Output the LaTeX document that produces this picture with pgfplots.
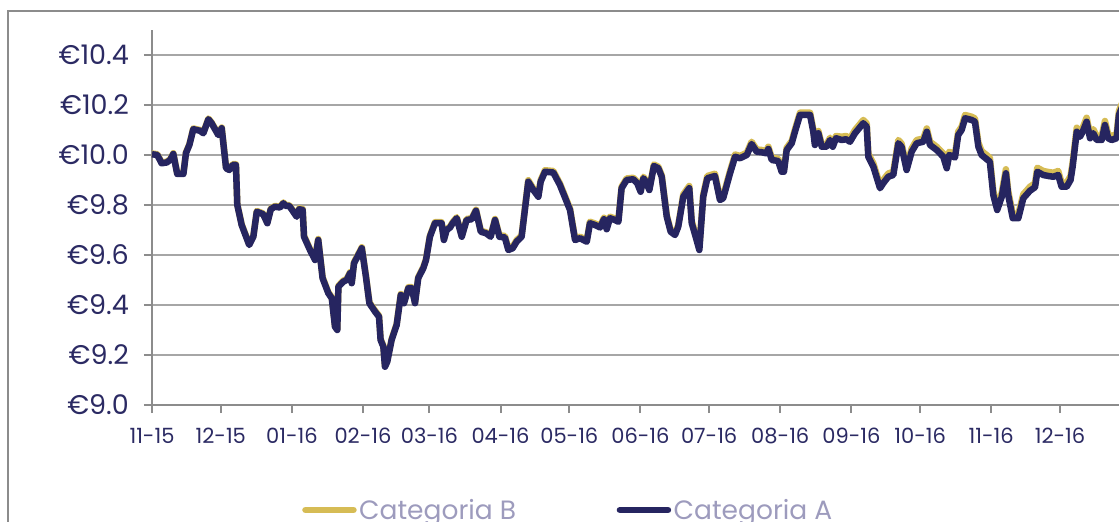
\documentclass[border=0pt]{standalone}
\usepackage{fontspec}
\setmainfont{Poppins}
\usepackage{pgfplots}
\usepackage{pgfplotstable}
\pgfplotsset{compat=1.18}
\definecolor{navyA}{RGB}{38,37,96}
\definecolor{goldB}{RGB}{214,188,85}
\definecolor{ticknavy}{RGB}{43,42,99}
\definecolor{legtext}{RGB}{157,155,189}
\definecolor{gridgray}{RGB}{166,166,166}
\definecolor{axisgray}{RGB}{140,140,140}
\definecolor{framegray}{RGB}{140,140,140}
\pgfplotstableread{
d a b
0 10.003 10.006
2.3 10.000 10.003
4.2 9.967 9.970
6.4 9.970 9.973
7.9 9.980 9.983
9.3 10.004 10.007
11.0 9.924 9.927
13.7 9.924 9.927
14.8 10.007 10.010
16.3 10.040 10.043
18.0 10.103 10.106
20.9 10.097 10.100
22.4 10.087 10.090
24.6 10.143 10.146
26.0 10.127 10.130
28.9 10.080 10.083
30.4 10.107 10.110
32.3 9.947 9.950
33.7 9.940 9.943
35.2 9.960 9.963
36.6 9.960 9.963
37.2 9.800 9.803
39.1 9.720 9.723
42.4 9.640 9.643
44.2 9.673 9.676
45.7 9.773 9.776
48.5 9.763 9.766
50.3 9.727 9.730
51.8 9.783 9.786
53.6 9.793 9.796
55.8 9.790 9.793
57.3 9.807 9.810
58.4 9.796 9.799
59.9 9.796 9.799
63.1 9.753 9.757
64.2 9.783 9.787
65.7 9.780 9.784
66.3 9.673 9.677
68.9 9.620 9.624
71.1 9.580 9.584
72.5 9.660 9.664
74.4 9.507 9.511
76.9 9.447 9.451
78.4 9.427 9.431
79.8 9.313 9.317
80.8 9.300 9.304
81.3 9.473 9.477
83.4 9.493 9.497
84.9 9.500 9.504
86.4 9.527 9.531
87.1 9.487 9.491
88.1 9.567 9.571
90.0 9.600 9.604
91.5 9.627 9.631
93.3 9.513 9.517
94.8 9.407 9.411
97.3 9.373 9.377
99.0 9.353 9.357
99.7 9.260 9.264
100.9 9.233 9.237
101.6 9.153 9.157
102.6 9.173 9.177
104.5 9.260 9.264
106.7 9.320 9.324
108.5 9.440 9.444
109.9 9.407 9.411
111.8 9.467 9.471
113.3 9.467 9.471
114.7 9.407 9.411
116.1 9.507 9.511
118.3 9.547 9.551
119.5 9.580 9.584
121.2 9.673 9.677
123.4 9.727 9.731
126.3 9.727 9.731
127.3 9.660 9.664
128.5 9.700 9.704
130.0 9.710 9.714
131.1 9.727 9.731
132.9 9.747 9.751
135.1 9.673 9.677
137.2 9.740 9.744
139.4 9.743 9.747
141.3 9.777 9.781
143.4 9.693 9.697
145.7 9.687 9.691
147.7 9.673 9.677
149.6 9.740 9.744
151.5 9.673 9.679
153.9 9.670 9.676
155.4 9.620 9.626
157.3 9.627 9.633
159.0 9.653 9.659
161.2 9.673 9.679
164.1 9.893 9.899
166.3 9.860 9.866
168.5 9.833 9.839
169.5 9.893 9.899
171.4 9.933 9.939
175.0 9.930 9.936
177.9 9.880 9.886
182.3 9.780 9.786
184.5 9.660 9.666
186.7 9.667 9.673
189.6 9.653 9.659
191.0 9.727 9.733
193.2 9.720 9.726
195.4 9.710 9.716
197.1 9.743 9.749
198.3 9.703 9.709
199.7 9.747 9.753
201.9 9.740 9.746
203.4 9.733 9.739
204.8 9.867 9.873
207.0 9.900 9.906
209.9 9.903 9.909
211.6 9.887 9.893
213.1 9.853 9.859
214.3 9.907 9.913
215.4 9.893 9.899
216.9 9.860 9.866
218.9 9.956 9.962
220.8 9.947 9.953
222.3 9.913 9.919
224.5 9.753 9.759
226.2 9.693 9.699
228.1 9.680 9.686
229.5 9.713 9.719
231.7 9.833 9.842
234.3 9.867 9.876
235.4 9.727 9.736
237.5 9.660 9.669
238.7 9.620 9.629
240.4 9.833 9.842
242.2 9.907 9.916
245.5 9.916 9.925
247.7 9.820 9.829
249.1 9.827 9.836
252.1 9.927 9.936
254.3 9.993 10.002
256.4 9.987 9.996
259.4 10.000 10.009
261.5 10.044 10.053
263.7 10.013 10.022
265.9 10.011 10.020
267.8 10.007 10.016
268.8 10.024 10.033
270.3 9.980 9.989
273.1 9.976 9.985
274.6 9.933 9.942
275.6 9.933 9.942
276.8 10.020 10.029
279.0 10.047 10.056
280.4 10.093 10.102
282.6 10.160 10.169
287.0 10.160 10.169
288.4 10.093 10.102
289.1 10.040 10.049
290.6 10.087 10.096
292.1 10.033 10.042
294.2 10.033 10.042
295.7 10.060 10.069
296.9 10.033 10.042
298.3 10.067 10.076
300.8 10.060 10.073
302.7 10.063 10.076
304.4 10.053 10.066
306.6 10.087 10.100
310.2 10.127 10.140
311.7 10.113 10.126
312.4 9.993 10.006
314.6 9.953 9.966
317.5 9.867 9.880
318.9 9.887 9.900
321.1 9.913 9.926
323.3 9.920 9.933
325.5 10.047 10.060
326.9 10.033 10.046
329.1 9.940 9.953
331.3 10.013 10.026
333.5 10.047 10.060
336.4 10.053 10.066
337.9 10.093 10.106
339.3 10.040 10.053
342.2 10.020 10.033
345.1 9.993 10.006
346.6 9.947 9.960
347.7 10.000 10.013
350.2 9.990 10.003
351.6 10.080 10.093
353.1 10.100 10.113
354.6 10.147 10.160
357.5 10.140 10.153
358.9 10.133 10.146
360.4 10.033 10.049
361.8 10.000 10.016
365.4 9.973 9.989
366.9 9.840 9.856
368.6 9.780 9.796
370.6 9.833 9.849
372.4 9.927 9.943
373.4 9.840 9.856
375.4 9.747 9.763
377.8 9.747 9.763
380.0 9.827 9.843
382.9 9.857 9.873
385.1 9.871 9.887
386.1 9.933 9.949
388.7 9.920 9.936
390.9 9.916 9.932
393.1 9.913 9.929
395.2 9.920 9.936
396.7 9.873 9.889
398.9 9.873 9.889
400.6 9.900 9.916
401.5 9.953 9.969
403.3 10.093 10.109
404.7 10.073 10.089
405.9 10.093 10.109
407.6 10.133 10.149
409.1 10.067 10.083
410.5 10.087 10.103
412.0 10.060 10.076
414.2 10.060 10.076
415.6 10.120 10.136
417.0 10.067 10.083
418.5 10.060 10.076
420.7 10.067 10.083
421.7 10.160 10.176
423.0 10.190 10.206
}\data
\begin{document}
\begin{tikzpicture}[x=1pt,y=1pt]
\useasboundingbox (0,0) rectangle (1119,522);
\clip (0,0) rectangle (1119,522);
\draw[framegray, line width=2pt] (8,-100) rectangle (1250,511);
\begin{axis}[
  at={(152pt,117pt)}, anchor=south west,
  scale only axis, width=976.8pt, height=375pt,
  xmin=0, xmax=426, ymin=9, ymax=10.5,
  axis x line*=bottom, axis y line*=left,
  axis line style={axisgray, line width=2pt},
  tick style={axisgray, line width=2pt},
  tick align=outside, major tick length=8pt,
  xtick={0,30,61,92,121,152,182,213,243,274,305,335,366,396},
  xticklabels={11-15,12-15,01-16,02-16,03-16,04-16,05-16,06-16,07-16,08-16,09-16,10-16,11-16,12-16},
  ytick={9,9.2,9.4,9.6,9.8,10,10.2,10.4},
  yticklabels={€9.0,€9.2,€9.4,€9.6,€9.8,€10.0,€10.2,€10.4},
  ymajorgrids, grid style={gridgray, line width=2pt},
  xticklabel style={font=\fontsize{21}{24}\selectfont, text=ticknavy, inner sep=0pt, yshift=-15pt},
  yticklabel style={font=\fontsize{27}{30}\selectfont, text=ticknavy, inner sep=0pt, xshift=-15pt},
  legend columns=2,
  legend style={at={(0.1536,-0.28)}, anchor=west, draw=none, fill=none,
    font=\fontsize{26.5}{30}\selectfont, text=legtext, inner sep=0pt,
    /tikz/every even column/.style={column sep=98pt},
    nodes={inner xsep=2.5pt, inner ysep=0pt}},
  legend image code/.code={\draw[#1, line cap=round] (3pt,0pt) -- (51pt,0pt);},
  clip=false,
]
\addplot[goldB, line width=6.5pt, line join=round] table[x=d, y=b] {\data};
\addlegendentry{Categoria B}
\addplot[navyA, line width=6.5pt, line join=round] table[x=d, y=a] {\data};
\addlegendentry{Categoria A}
\end{axis}
\end{tikzpicture}
\end{document}
